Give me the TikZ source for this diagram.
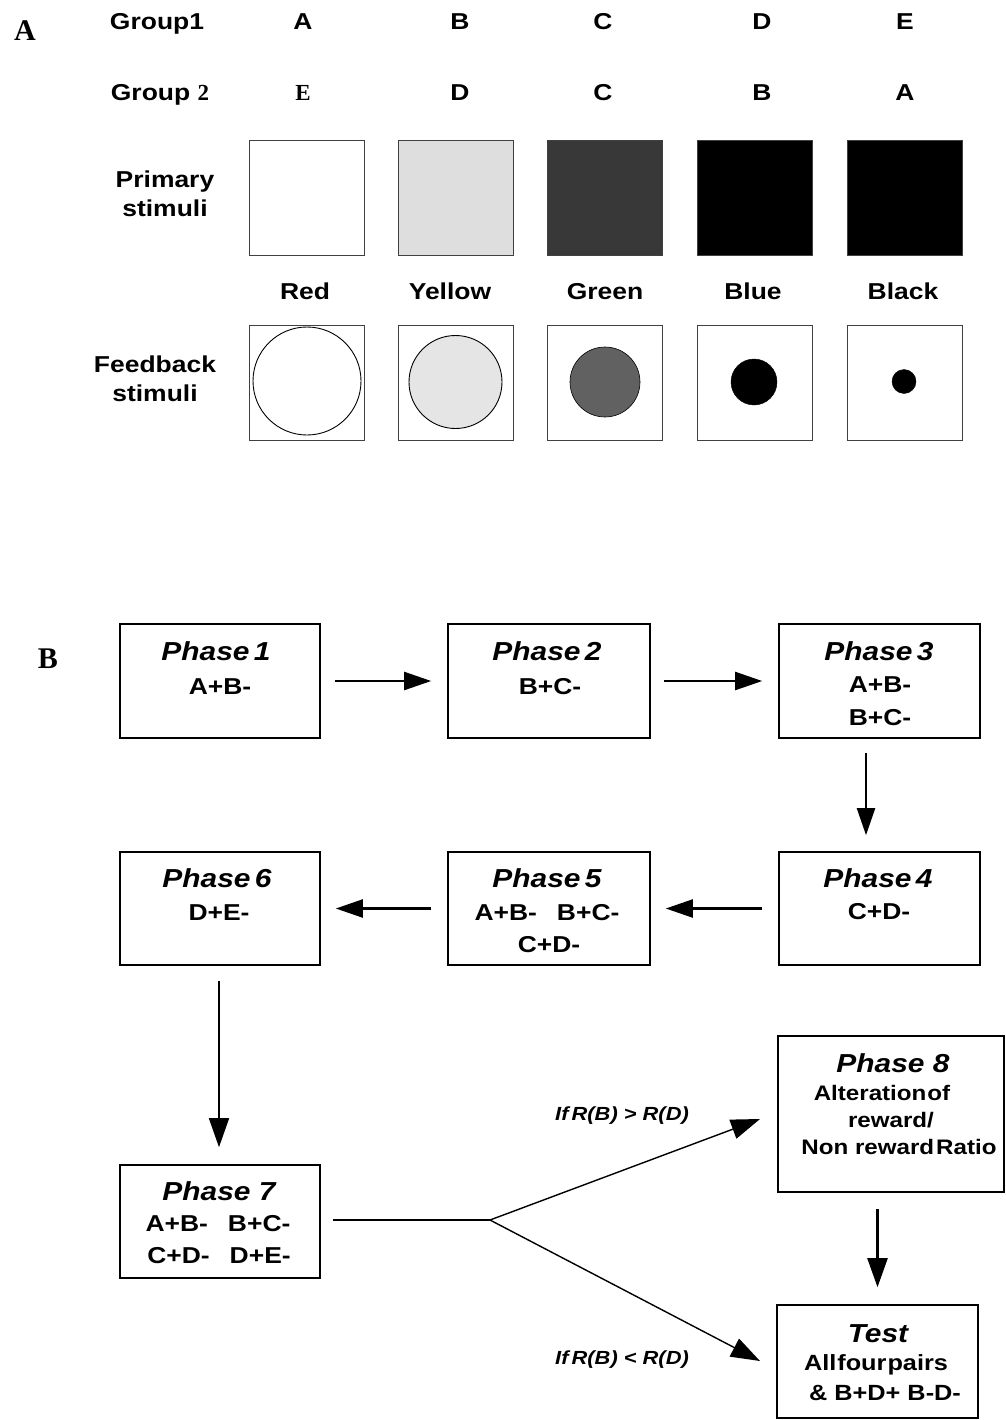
\documentclass[tikz,border=0pt]{standalone}
\usepackage{fontspec}
\setmainfont{Liberation Sans}[FakeStretch=1.15]
\newfontfamily\partfont{Liberation Serif}
\usetikzlibrary{arrows.meta}

\begin{document}
\begin{tikzpicture}[x=1pt,y=1pt,yscale=-1,
  txt/.style={anchor=base,inner sep=0,font=\fontsize{23}{28}\selectfont\bfseries},
  part/.style={anchor=base,inner sep=0,font=\fontsize{30}{34}\selectfont\partfont\bfseries},
  ttl/.style={anchor=base,inner sep=0,font=\fontsize{26}{30}\selectfont\bfseries\itshape},
  small/.style={anchor=base,inner sep=0,font=\fontsize{21}{25}\selectfont\bfseries},
  cond/.style={anchor=base,inner sep=0,font=\fontsize{19}{23}\selectfont\bfseries\itshape},
  stim/.style={draw=black!75,line width=0.9pt,minimum size=115pt,inner sep=0},
  phasebox/.style={draw,line width=1.6pt,minimum width=200pt,minimum height=114pt,inner sep=0},
  arr/.style={line width=2.2pt,-{Triangle[length=27pt,width=18pt]}},
  thinarr/.style={line width=1.4pt,-{Triangle[length=29pt,width=20pt]}}]
\useasboundingbox (0,0) rectangle (1005,1420);

% Part A
\draw (25,41) node [part] (partA) {A};
\draw (157,30) node [txt] (grp1) {Group1};
\draw (160,101) node [txt] (grp2) {Group {\partfont 2}};
% Group 1 letters
\draw (303,30) node [txt] (g1a) {A};
\draw (460,30) node [txt] (g1b) {B};
\draw (603,30) node [txt] (g1c) {C};
\draw (762,30) node [txt] (g1d) {D};
\draw (905,30) node [txt] (g1e) {E};
% Group 2 letters
\draw (303,101) node [txt,font=\fontsize{23}{28}\selectfont\partfont\bfseries] (g2e) {E};
\draw (460,101) node [txt] (g2d) {D};
\draw (603,101) node [txt] (g2c) {C};
\draw (762,101) node [txt] (g2b) {B};
\draw (905,101) node [txt] (g2a) {A};

% Primary stimuli
\draw (165,188) node [txt] (prim1) {Primary};
\draw (165,217) node [txt] (prim2) {stimuli};
\draw (307,197.5) node [stim,fill=white] (prRed) {};
\draw (455.5,197.5) node [stim,fill=black!13] (prYellow) {};
\draw (604.5,197.5) node [stim,fill=black!78] (prGreen) {};
\draw (755,197.5) node [stim,fill=black] (prBlue) {};
\draw (904.5,197.5) node [stim,fill=black] (prBlack) {};

% Colour names
\draw (305,300) node [txt] (nRed) {Red};
\draw (450,300) node [txt] (nYellow) {Yellow};
\draw (605,300) node [txt] (nGreen) {Green};
\draw (753,300) node [txt] (nBlue) {Blue};
\draw (903,300) node [txt] (nBlack) {Black};

% Feedback stimuli
\draw (155,372) node [txt] (fb1) {Feedback};
\draw (155,401) node [txt] (fb2) {stimuli};
\draw (306.5,382.5) node [stim,fill=white] (fbRed) {};
\draw (455.5,382.5) node [stim,fill=white] (fbYellow) {};
\draw (604.5,382.5) node [stim,fill=white] (fbGreen) {};
\draw (755,382.5) node [stim,fill=white] (fbBlue) {};
\draw (904.5,382.5) node [stim,fill=white] (fbBlack) {};
\draw [line width=0.9pt] (307,381) circle (54);
\draw [line width=0.9pt,fill=black!10] (455.5,382) circle (46.5);
\draw [line width=0.6pt,fill=black!62] (605,382) circle (35);
\draw [fill=black] (754,382) circle (23);
\draw [fill=black] (904,381.5) circle (12);

% Part B
\draw (48,668) node [part] (partB) {B};
% Phase boxes
\draw (220,681) node [phasebox] (p1) {};
\draw (549,681) node [phasebox,minimum width=202pt] (p2) {};
\draw (879.5,681) node [phasebox,minimum width=201pt] (p3) {};
\draw (879.5,908.5) node [phasebox,minimum width=201pt,minimum height=113pt] (p4) {};
\draw (549,908.5) node [phasebox,minimum width=202pt,minimum height=113pt] (p5) {};
\draw (220,908.5) node [phasebox,minimum height=113pt] (p6) {};
\draw (220,1221.5) node [phasebox,minimum height=113pt] (p7) {};
\draw (891,1114) node [phasebox,minimum width=226pt,minimum height=156pt] (p8) {};
\draw (877.5,1361.5) node [phasebox,minimum width=201pt,minimum height=113pt] (test) {};

% Box texts
\draw (216,660.5) node [ttl] (p1t) {Phase\,1};
\draw (220,694) node [txt] (p1a) {A+B-};
\draw (547,660.5) node [ttl] (p2t) {Phase\,2};
\draw (550,694) node [txt] (p2a) {B+C-};
\draw (879,660) node [ttl] (p3t) {Phase\,3};
\draw (880,692) node [txt] (p3a) {A+B-};
\draw (880,725) node [txt] (p3b) {B+C-};
\draw (878,887.5) node [ttl] (p4t) {Phase\,4};
\draw (879,919) node [txt] (p4a) {C+D-};
\draw (547,887.5) node [ttl] (p5t) {Phase\,5};
\draw (547,920) node [txt] (p5a) {A+B-\hspace{20pt}B+C-};
\draw (549,952) node [txt] (p5b) {C+D-};
\draw (217,887.5) node [ttl] (p6t) {Phase\,6};
\draw (219,920) node [txt] (p6a) {D+E-};
\draw (219,1200.5) node [ttl] (p7t) {Phase 7};
\draw (218,1231) node [txt] (p7a) {A+B-\hspace{20pt}B+C-};
\draw (219,1263) node [txt] (p7b) {C+D-\hspace{20pt}D+E-};
\draw (893,1072.5) node [ttl] (p8t) {Phase 8};
\draw (882,1100) node [small] (p8a) {Alteration\hspace{1pt}of};
\draw (891,1127) node [small] (p8b) {reward/};
\draw (899,1154) node [small] (p8c) {Non reward\hspace{2pt}Ratio};
\draw (878,1342.5) node [ttl] (testt) {Test};
\draw (876,1370) node [small,font=\fontsize{22}{26}\selectfont\bfseries] (testa) {All\hspace{1pt}four\hspace{1pt}pairs};
\draw (885,1400) node [small,font=\fontsize{22}{26}\selectfont\bfseries] (testb) {\& B+D+ B-D-};

% Conditions
\draw (622,1120) node [cond] (cup) {If\,R(B) > R(D)};
\draw (622,1364) node [cond] (cdn) {If\,R(B) < R(D)};

% Arrows
\draw [arr,shorten <=14pt,shorten >=16pt] (p1) -- (p2);
\draw [arr,shorten <=13pt,shorten >=16pt] (p2) -- (p3);
\draw [arr,shorten <=14pt,shorten >=16pt] ([xshift=-13.5pt]p3.south) -- ([xshift=-13.5pt]p4.north);
\draw [arr,shorten <=16pt,shorten >=15pt] (p4) -- (p5);
\draw [arr,shorten <=16pt,shorten >=15pt] (p5) -- (p6);
\draw [thinarr,line width=1.6pt,shorten <=15pt,shorten >=17pt] ([xshift=-1pt]p6.south) -- ([xshift=-1pt]p7.north);
\draw [arr,line width=2.4pt,-{Triangle[length=29pt,width=20pt]},shorten <=16pt,shorten >=17pt] (p8.south -| test.north) -- (test.north);

% Branch
\coordinate (fork) at (490,1220);
\coordinate (up) at (760,1119);
\coordinate (dn) at (760,1361);
\draw [line width=1.4pt,shorten <=12pt] (p7.east |- fork) -- (fork);
\draw [thinarr] (fork) -- (up);
\draw [thinarr] (fork) -- (dn);

\end{tikzpicture}
\end{document}
